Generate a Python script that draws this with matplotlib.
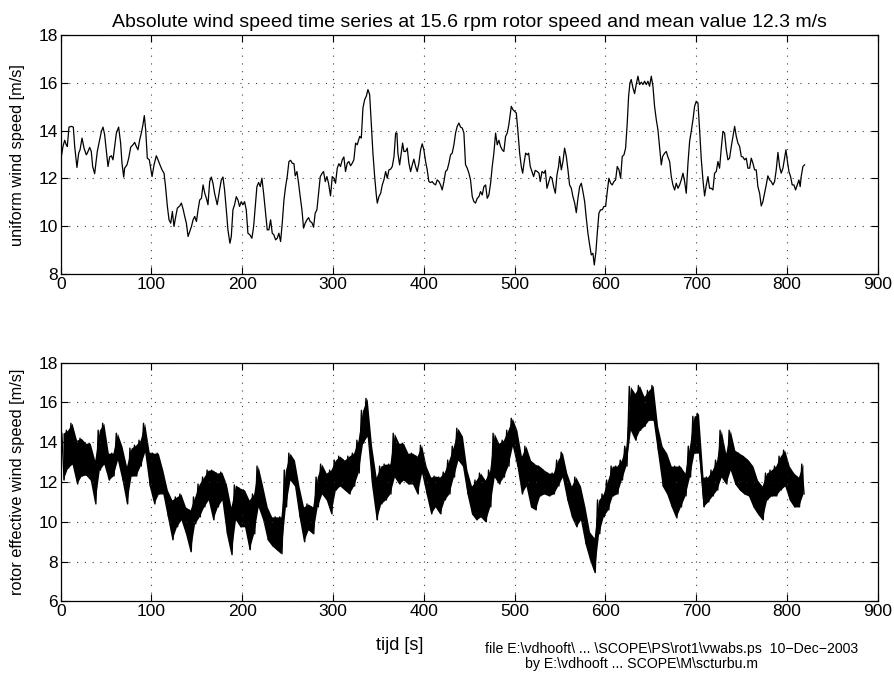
import numpy as np
import matplotlib
matplotlib.use("Agg")
import matplotlib.pyplot as plt

plt.rcParams["font.family"] = ["Liberation Sans", "DejaVu Sans"]

# uniform wind speed (top panel)
t_top = [
    0.7, 2.5, 4.4, 6.2, 7.3, 9.1, 11.7, 13.9, 15.4, 17.9, 19.8, 21.3, 23.5, 25.7, 28.2, 29.3,
    31.9, 33.7, 35.2, 37.4, 40.3, 42.9, 44.8, 46.6, 48.4, 50.3, 52.1, 53.9, 55.8, 57.6, 59.4,
    61.3, 63.8, 66.0, 67.5, 69.4, 70.4, 73.0, 74.9, 77.1, 79.6, 81.5, 83.3, 85.1, 87.0, 88.8,
    90.6, 92.1, 93.6, 95.4, 97.6, 100.6, 102.8, 105.3, 107.2, 109.0, 111.6, 113.8, 115.3,
    117.5, 119.3, 121.2, 123.0, 124.8, 126.7, 128.5, 131.1, 132.9, 134.8, 136.6, 138.4, 140.3,
    142.1, 144.0, 145.8, 147.6, 149.5, 151.3, 153.1, 155.0, 156.8, 158.7, 160.5,
    162.2, 164.1, 165.9, 167.7, 169.5, 172.4, 175.0, 176.9, 178.7, 180.5, 182.4, 184.2, 186.4,
    187.9, 189.7, 191.5, 193.4, 195.2, 197.0, 198.9, 200.7, 202.5, 204.4, 206.2, 208.4, 210.6,
    212.5, 214.3, 216.1, 218.0, 219.8, 221.6, 223.5, 225.3, 227.5, 229.3, 231.2, 233.0, 234.8,
    236.7, 238.5, 240.3, 242.2, 244.0, 245.9, 247.7, 249.5, 251.4, 253.2, 255.0, 256.9, 258.3,
    260.2, 262.0, 263.8, 265.7, 267.5, 269.3, 271.2, 273.0, 274.8, 276.7, 278.5, 280.3, 282.2,
    284.0, 285.9, 287.7, 289.5, 291.4, 293.2, 295.0, 297.2, 299.1, 300.9, 302.7, 304.6, 306.4,
    308.2, 310.1, 311.9, 313.7, 315.6, 317.4, 319.3, 321.1, 322.9, 324.8, 326.6,
    329.3, 331.1, 332.9, 334.8, 336.6, 338.4, 340.3, 342.1, 343.9, 345.8, 347.6, 348.7, 350.5,
    352.4, 354.2, 356.0, 357.9, 359.7, 361.5, 363.4, 365.2, 367.1, 368.9, 370.3, 371.4, 373.3,
    375.1, 376.6, 378.0, 379.9, 381.7, 383.5, 385.4, 387.2, 389.0, 390.9, 392.7, 394.5, 396.4,
    398.2, 400.0, 401.9, 403.7, 405.5, 407.4, 409.2, 411.0, 412.9, 414.7, 416.6, 418.4, 420.2,
    422.1, 423.9, 425.7, 427.6, 429.4, 431.2, 433.1, 434.9, 436.7, 438.6, 440.4, 442.3, 444.1,
    445.9, 447.8, 449.6, 451.4, 453.3, 455.1, 456.9, 458.8, 460.6, 462.4, 464.3, 466.1, 468.0,
    469.8, 471.6, 473.5, 475.3, 477.1, 479.0, 480.8, 482.6, 484.5, 486.3, 488.1, 490.0, 491.8,
    493.6, 496.3, 498.1, 500.0, 501.8, 503.6, 505.5, 507.3, 508.8, 510.3, 512.1, 513.9, 515.4,
    517.2, 519.1, 520.9, 522.7, 524.9, 526.8, 528.2, 530.1, 532.3, 533.8, 535.6, 537.4, 539.3,
    541.1, 542.9, 544.8, 546.6, 548.4, 549.5, 551.4, 553.2, 555.0, 556.9, 558.7, 560.5, 562.4,
    564.2, 566.1, 567.9, 569.7, 571.6, 573.4, 575.2, 577.1, 578.9, 580.7, 582.6, 584.4, 586.2,
    587.7, 589.5, 591.0, 592.8, 594.7, 596.5, 598.3, 600.2, 602.0, 603.8, 605.7, 607.5, 609.3,
    611.2, 613.0, 614.9, 616.7, 618.5, 620.4, 622.2, 624.0, 625.5, 627.0, 628.4, 630.3, 632.1,
    633.9, 635.8, 637.6, 639.5, 641.3, 643.1, 645.0, 646.8, 648.6, 650.5, 652.3, 654.1, 656.0,
    657.8, 659.6, 661.5, 663.0, 665.2, 667.0, 668.8, 670.7, 672.5, 674.3, 676.2, 678.0, 679.9,
    681.7, 683.5, 685.4, 687.2, 689.0, 690.9, 692.7, 694.5, 696.4, 698.2, 700.0, 701.9, 703.7,
    705.6, 707.4, 709.2, 711.1, 712.9, 714.7, 716.6, 718.4, 720.2, 722.1, 723.9, 725.7, 727.6,
    729.4, 731.2, 733.1, 734.9, 736.7, 738.6, 740.4, 742.3, 744.1, 745.9, 747.8, 749.6, 751.4,
    753.3, 755.1, 756.9, 758.8, 760.6, 762.4, 764.3, 766.1, 767.9, 769.8, 771.6, 773.4, 775.3,
    777.1, 778.9, 780.8, 782.6, 784.5, 786.3, 788.1, 790.0, 791.8, 793.6, 795.5, 797.3, 798.8,
    800.2, 802.1, 803.9, 805.7, 807.6, 809.4, 811.2, 813.1, 814.5, 815.6, 817.5, 819.3,
]
v_top = [
    12.92, 13.34, 13.60, 13.40, 13.34, 14.15, 14.18, 14.15, 13.34, 12.46, 13.06, 13.20, 13.69, 13.27, 12.99, 13.06,
    13.30, 13.13, 12.50, 12.20, 13.13, 13.62, 13.97, 14.15, 13.83, 13.13, 12.50, 12.90, 12.95, 12.78, 13.34,
    13.90, 14.15, 13.48, 12.64, 12.06, 12.43, 12.57, 12.85, 13.31, 13.41, 13.51, 13.34, 13.20, 13.62, 13.90,
    14.25, 14.63, 14.04, 12.85, 12.78, 12.08, 12.57, 12.95, 12.78, 12.60, 12.36, 12.22, 11.73,
    10.83, 10.27, 10.13, 10.62, 9.99, 10.41, 10.76, 10.85, 10.97, 10.72, 10.41, 10.13, 9.57,
    9.78, 9.99, 10.27, 10.41, 10.20, 10.69, 11.10, 11.17, 11.73, 11.38, 11.17,
    10.90, 11.87, 12.06, 11.80, 11.38, 10.90, 11.52, 11.94, 12.06, 11.52, 10.69, 9.85, 9.29,
    9.57, 10.69, 10.90, 11.24, 11.10, 10.83, 11.03, 10.90, 11.03, 10.69, 9.71, 9.64, 9.50,
    9.99, 10.83, 11.66, 11.83, 11.66, 12.01, 11.38, 10.69, 9.85, 9.85, 10.27, 9.71, 9.64,
    9.43, 9.50, 9.71, 9.36, 10.13, 11.10, 11.66, 12.08, 12.71, 12.76, 12.64, 12.62, 12.11,
    12.29, 11.80, 11.24, 10.69, 9.92, 10.13, 10.27, 10.36, 10.20, 10.15, 9.96, 10.55, 10.69,
    11.38, 12.08, 12.20, 12.29, 11.87, 12.08, 11.80, 11.27, 12.08, 12.01, 11.80, 12.43, 12.62,
    12.50, 12.78, 12.90, 12.29, 12.64, 12.71, 12.53, 12.64, 12.78, 13.48, 13.41,
    13.76, 13.69, 14.95, 15.30, 15.44, 15.72, 15.51, 14.32, 13.06, 12.08, 11.31, 10.97, 11.24,
    11.38, 11.73, 11.94, 12.29, 12.01, 12.36, 12.39, 12.50, 12.92, 13.90, 13.90, 13.06, 12.57,
    13.06, 13.48, 13.13, 13.13, 13.27, 12.64, 12.29, 12.57, 12.81, 12.50, 12.29, 12.64, 13.20,
    13.45, 13.20, 12.71, 12.36, 11.87, 11.83, 11.87, 11.78, 11.73, 11.94, 11.87, 11.73, 11.52,
    11.87, 12.29, 12.36, 12.64, 12.99, 13.06, 13.41, 13.90, 14.18, 14.32, 14.15, 14.11, 13.90,
    12.57, 12.43, 12.22, 11.94, 11.24, 11.03, 10.97, 11.17, 11.24, 11.45, 11.31, 11.66, 11.73,
    11.17, 11.31, 11.80, 12.50, 13.06, 13.90, 13.41, 13.60, 13.34, 13.20, 13.13, 13.76, 13.90,
    14.25, 15.02, 14.88, 14.81, 14.74, 13.97, 13.06, 12.50, 12.22, 12.64, 13.06, 12.99, 13.06,
    12.50, 12.29, 12.08, 12.34, 12.29, 12.22, 11.87, 12.29, 12.22, 12.34, 11.59, 11.83, 12.08,
    12.01, 11.66, 11.38, 12.15, 12.50, 12.92, 12.36, 12.71, 13.27, 12.92, 12.36, 11.73, 11.59,
    11.24, 10.97, 10.57, 11.17, 11.66, 11.80, 11.45, 11.03, 10.34, 9.71, 9.22, 8.80, 8.87,
    8.38, 8.94, 9.71, 10.55, 10.69, 10.69, 10.83, 10.83, 11.45, 12.01, 11.80, 11.73, 11.87,
    11.94, 12.50, 12.36, 12.01, 12.92, 12.99, 13.27, 14.32, 15.44, 16.00, 16.14, 15.79, 15.55,
    15.93, 16.28, 15.93, 16.03, 15.93, 16.07, 15.93, 16.07, 15.86, 16.28, 15.86, 15.02, 14.46,
    14.04, 13.34, 12.57, 12.92, 13.06, 13.13, 12.90, 12.71, 12.08, 11.73, 11.52, 11.80, 11.59,
    11.73, 11.94, 12.22, 11.87, 11.38, 12.64, 13.55, 13.97, 14.46, 15.02, 15.23, 15.16, 14.04,
    12.78, 11.94, 11.27, 11.73, 12.08, 11.59, 11.59, 11.52, 12.22, 12.29, 12.71, 12.43, 13.27,
    13.97, 13.90, 13.20, 12.78, 12.85, 13.34, 13.76, 14.18, 13.76, 13.48, 13.34, 12.92, 12.90,
    12.78, 12.85, 12.43, 12.43, 12.85, 12.64, 12.36, 12.36, 11.66, 11.38, 10.85, 11.03, 11.38,
    11.73, 12.11, 11.94, 11.87, 11.73, 11.87, 12.36, 13.09, 12.50, 12.22, 12.43, 12.85, 13.20,
    12.78, 12.29, 12.08, 11.73, 11.73, 11.52, 11.73, 11.94, 11.66, 12.08, 12.50, 12.57,
]

# rotor effective wind speed (bottom panel): upper and lower edge of the noisy band per 5 s
t_band = list(range(0, 820, 5))
v_upper = [
    14.45, 14.6, 14.95, 14.1, 14.2, 13.95, 13.95, 13.1, 14.6, 14.95, 13.45, 13.45, 14.45, 13.8,
    12.8, 13.7, 13.85, 14.1, 14.95, 13.5, 13.45, 13.45, 12.6, 11.6, 11.1, 11.25, 11.4, 10.75,
    10.6, 11.25, 11.9, 12.25, 12.6, 12.6, 12.45, 12.5, 11.9, 10.75, 11.85, 11.7, 11.6, 11.1,
    11.4, 12.8, 11.8, 10.75, 10.25, 10.25, 10.25, 12.6, 13.45, 13.1, 11.8, 10.75, 10.9, 10.75,
    12.25, 12.9, 12.45, 12.6, 13.1, 13.3, 13.1, 13.3, 13.45, 14.1, 15.6, 16.2, 13.8, 12.25,
    12.8, 12.9, 12.9, 14.45, 13.95, 13.95, 13.45, 13.45, 13.3, 13.85, 12.8, 12.25, 12.3, 12.25,
    12.5, 13.1, 13.8, 14.7, 14.3, 12.6, 11.8, 12.1, 12.45, 12.1, 12.6, 14.45, 13.95, 14.1,
    14.6, 15.2, 14.6, 13.3, 13.8, 13.1, 12.9, 12.8, 12.6, 12.45, 12.45, 13.1, 13.5, 12.45,
    11.8, 12.25, 11.8, 10.75, 9.5, 9.2, 11.1, 11.4, 12.1, 12.8, 12.8, 13.1, 13.8, 16.8, 16.45,
    16.85, 16.3, 16.6, 16.85, 14.8, 13.8, 13.45, 12.8, 12.8, 12.8, 12.45, 13.8, 15.3, 15.45,
    12.25, 12.25, 12.6, 13.1, 14.6, 13.45, 14.6, 13.6, 13.45, 13.3, 13.1, 12.8, 12.1, 11.8,
    12.45, 12.6, 12.8, 13.3, 13.6, 12.8, 12.45, 12.25, 12.9,
]
v_lower = [
    12.1, 12.7, 12.9, 11.9, 12.3, 12.35, 12.1, 10.9, 12.6, 12.9, 12.1, 12.3, 13.1, 12.1,
    10.9, 12.3, 12.3, 12.8, 13.5, 11.8, 10.9, 11.4, 11.4, 10.25, 9.1, 9.75, 10.1, 9.4,
    8.5, 9.9, 10.25, 10.75, 11.1, 10.1, 10.75, 11.1, 9.4, 8.35, 10.1, 9.75, 9.75, 8.6,
    9.4, 10.75, 10.1, 9.1, 8.8, 8.6, 8.4, 10.75, 12.1, 11.8, 10.25, 9.0, 9.6, 9.4,
    10.75, 11.4, 11.1, 10.4, 11.6, 11.8, 11.6, 11.4, 11.8, 12.45, 13.95, 14.3, 11.8, 10.1,
    10.9, 11.1, 11.4, 12.25, 11.9, 12.1, 11.9, 11.9, 11.4, 12.45, 11.4, 10.4, 10.75, 10.4,
    11.1, 11.4, 12.25, 13.1, 12.8, 11.4, 10.4, 10.1, 10.25, 10.0, 10.75, 12.25, 11.9, 12.25,
    12.8, 13.8, 12.8, 11.4, 11.8, 10.75, 10.6, 11.3, 11.4, 11.3, 11.4, 11.8, 12.25, 11.1,
    10.25, 9.75, 10.1, 8.9, 8.1, 7.45, 9.4, 10.25, 10.6, 11.3, 11.4, 12.1, 12.8, 14.6, 14.1,
    14.6, 14.8, 15.1, 15.1, 13.45, 11.8, 11.4, 10.75, 10.2, 10.75, 11.3, 12.25, 13.45, 13.45,
    10.75, 11.0, 11.3, 11.6, 12.25, 11.9, 12.6, 11.9, 11.6, 11.4, 11.3, 10.75, 10.4, 10.1,
    11.1, 11.3, 11.3, 11.6, 11.8, 11.1, 10.75, 10.75, 11.4,
]

x_ticks = [0, 100, 200, 300, 400, 500, 600, 700, 800, 900]

fig = plt.figure(figsize=(8.94, 6.75), dpi=100)
ax1 = fig.add_axes([0.0679, 0.594, 0.914, 0.354])
ax2 = fig.add_axes([0.0679, 0.1089, 0.914, 0.354])

ax1.plot(t_top, v_top, color="black", lw=0.9)

# noisy band: filled between its edges, plus a zigzag over the edges for the spikes
t_mid = np.array(t_band) + 2.5
ax2.fill_between(t_mid, v_lower, v_upper, color="black", lw=0)
t_zig = np.column_stack([np.array(t_band) + 1.25, np.array(t_band) + 3.75]).ravel()
v_zig = np.column_stack([v_upper, v_lower]).ravel()
ax2.plot(t_zig, v_zig, color="black", lw=1.0)

for ax, yticks in ((ax1, range(8, 19, 2)), (ax2, range(6, 19, 2))):
    ax.set_xlim(0, 900)
    ax.set_ylim(yticks[0], yticks[-1])
    ax.set_xticks(x_ticks)
    ax.set_yticks(list(yticks))
    ax.grid(True, color="0.25", linestyle=(0, (1, 6)), linewidth=0.8)
    ax.tick_params(direction="in", length=5, width=0.8, top=True, right=True,
                   labelsize=12.5, pad=2)
    for s in ax.spines.values():
        s.set_linewidth(0.9)

ax1.set_title("Absolute wind speed time series at 15.6 rpm rotor speed and mean value 12.3 m/s",
              fontsize=14, pad=6)
ax1.set_ylabel("uniform wind speed [m/s]", fontsize=11.8)
ax2.set_ylabel("rotor effective wind speed [m/s]", fontsize=11.8)
ax1.yaxis.set_label_coords(-0.044, 0.5)
ax2.yaxis.set_label_coords(-0.044, 0.5)
ax2.set_xlabel("tijd [s]", fontsize=13)
ax2.xaxis.set_label_coords(0.415, -0.15)

fig.text(672 / 894, 1 - 649 / 675, "file E:\\vdhooft\\ ... \\SCOPE\\PS\\rot1\\vwabs.ps  10\u2212Dec\u22122003",
         ha="center", va="center", fontsize=10.2)
fig.text(525 / 894, 1 - 664 / 675, "by E:\\vdhooft ... SCOPE\\M\\scturbu.m",
         ha="left", va="center", fontsize=10.2)

fig.savefig("out.png", dpi=100)
